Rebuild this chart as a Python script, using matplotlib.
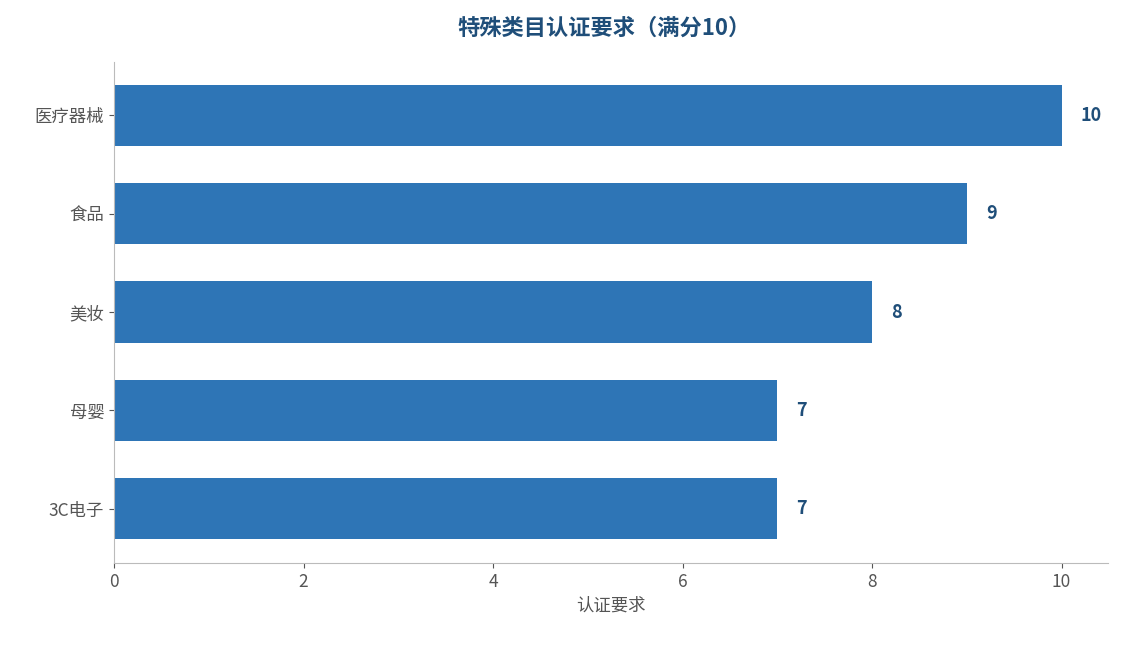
import matplotlib
matplotlib.use("Agg")
import matplotlib.pyplot as plt

plt.rcParams['font.family'] = ['Noto Sans CJK SC', 'DejaVu Sans']

categories = ["3C电子", "母婴", "美妆", "食品", "医疗器械"]
values = [7, 7, 8, 9, 10]

fig = plt.figure(figsize=(11.24, 6.45), dpi=100)
ax = fig.add_axes([114/1124, 1-563/645, (1108-114)/1124, (563-62)/645])
ax.barh(range(len(categories)), values, height=0.62, color="#2e75b6")
ax.set_yticks(range(len(categories)))
ax.set_yticklabels(categories)
ax.set_xlim(0, 10.49)
ax.set_ylim(-0.55, 4.54)
for i, v in enumerate(values):
    ax.text(v + 0.2, i, str(v), va="center", ha="left", fontsize=13,
            fontweight="bold", color="#1f4e79")
for s in ["top", "right"]:
    ax.spines[s].set_visible(False)
for s in ["left", "bottom"]:
    ax.spines[s].set_color("#bbbbbb")
ax.tick_params(colors="#555555", labelsize=12.5)
ax.tick_params(axis="both", color="#555555")
ax.set_xlabel("认证要求", fontsize=12.5, color="#555555")
fig.text(604/1124, 1-28/645, "特殊类目认证要求（满分10）", ha="center", va="center",
         fontsize=16, fontweight="bold", color="#1f4e79")
fig.savefig("out.png", dpi=100)
